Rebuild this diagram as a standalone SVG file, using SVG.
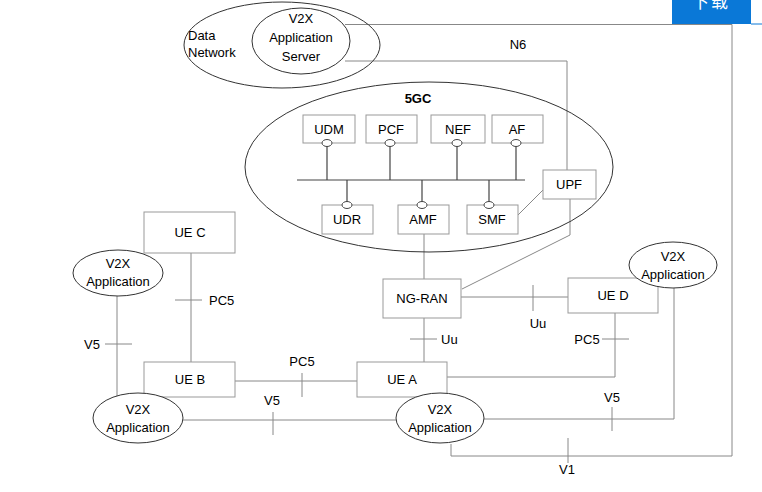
<svg xmlns="http://www.w3.org/2000/svg" width="762" height="492" viewBox="0 0 762 492">
<style>
text{font-family:"Liberation Sans",Arial,sans-serif;font-size:13px;fill:#000;text-anchor:middle}
.l{text-anchor:start}
.box{fill:#fff;stroke:#999;stroke-width:1}
.ell{fill:#fff;stroke:#333;stroke-width:1}
.open{fill:none}
.ln{fill:none;stroke:#888;stroke-width:1}
.dk{fill:none;stroke:#444;stroke-width:1.2}
.knob{fill:#fff;stroke:#444;stroke-width:1}
</style>
<rect width="762" height="492" fill="#fff"/>
<g id="connectors">
<polyline class="ln" points="345,24.5 732,24.5 732,456 451,456 451,444"/>
<polyline class="ln" points="345,61 567,61 567,170"/>
<polyline class="ln" points="570,199 570,235 462,289"/>
<line class="ln" x1="518" y1="215" x2="543" y2="190"/>
<line class="ln" x1="424" y1="234" x2="424" y2="279"/>
<line class="ln" x1="461" y1="297" x2="568" y2="297"/>
<line class="ln" x1="533" y1="285" x2="533" y2="311"/>
<line class="ln" x1="424" y1="318" x2="424" y2="362"/>
<line class="ln" x1="410" y1="339" x2="437" y2="339"/>
<polyline class="ln" points="615,313 615,377 447,377"/>
<line class="ln" x1="602" y1="339" x2="629" y2="339"/>
<polyline class="ln" points="674,288 674,419 484,419"/>
<line class="ln" x1="612" y1="407" x2="612" y2="431"/>
<line class="ln" x1="568" y1="438" x2="568" y2="463"/>
<line class="ln" x1="235" y1="381" x2="357" y2="381"/>
<line class="ln" x1="302" y1="373" x2="302" y2="397"/>
<line class="ln" x1="182" y1="420" x2="396" y2="420"/>
<line class="ln" x1="273" y1="412" x2="273" y2="435"/>
<line class="ln" x1="191" y1="253" x2="191" y2="362"/>
<line class="ln" x1="175" y1="300" x2="202" y2="300"/>
<line class="ln" x1="117" y1="296" x2="117" y2="398"/>
<line class="ln" x1="105" y1="344" x2="132" y2="344"/>
</g>
<g id="data-network">
<ellipse class="ell open" cx="282" cy="45" rx="98" ry="43"/>
<text class="l" x="188" y="40">Data</text>
<text class="l" x="188" y="57">Network</text>
</g>
<g id="v2x-as">
<ellipse class="ell" cx="301" cy="41" rx="49" ry="33"/>
<text x="301" y="23">V2X</text>
<text x="301" y="42">Application</text>
<text x="301" y="61">Server</text>
</g>
<text x="518" y="49">N6</text>
<g id="fivegc">
<ellipse class="ell open" cx="429" cy="167" rx="184" ry="85"/>
<text x="418" y="103" style="font-weight:bold">5GC</text>
<line class="dk" x1="297" y1="180" x2="525" y2="180"/>
</g>
<g id="udm"><line class="dk" x1="327" y1="143" x2="327" y2="180"/><rect class="box" x="303" y="115" width="52" height="28"/><text x="329" y="134">UDM</text><ellipse class="knob" cx="327" cy="143" rx="5" ry="3.5"/></g>
<g id="pcf"><line class="dk" x1="390" y1="143" x2="390" y2="180"/><rect class="box" x="366" y="115" width="51" height="28"/><text x="391" y="134">PCF</text><ellipse class="knob" cx="390" cy="143" rx="5" ry="3.5"/></g>
<g id="nef"><line class="dk" x1="457" y1="143" x2="457" y2="180"/><rect class="box" x="431" y="115" width="54" height="28"/><text x="458" y="134">NEF</text><ellipse class="knob" cx="457" cy="143" rx="5" ry="3.5"/></g>
<g id="af"><line class="dk" x1="516" y1="143" x2="516" y2="180"/><rect class="box" x="492" y="115" width="51" height="28"/><text x="517" y="134">AF</text><ellipse class="knob" cx="516" cy="143" rx="5" ry="3.5"/></g>
<g id="udr"><line class="dk" x1="347" y1="180" x2="347" y2="205"/><rect class="box" x="322" y="205" width="51" height="29"/><text x="347" y="224">UDR</text><ellipse class="knob" cx="347" cy="205" rx="5" ry="3.5"/></g>
<g id="amf"><line class="dk" x1="422" y1="180" x2="422" y2="205"/><rect class="box" x="398" y="205" width="51" height="29"/><text x="423" y="224">AMF</text><ellipse class="knob" cx="422" cy="205" rx="5" ry="3.5"/></g>
<g id="smf"><line class="dk" x1="489" y1="180" x2="489" y2="205"/><rect class="box" x="467" y="205" width="51" height="29"/><text x="492" y="224">SMF</text><ellipse class="knob" cx="489" cy="205" rx="5" ry="3.5"/></g>
<g id="upf"><rect class="box" x="543" y="170" width="53" height="29"/><text x="569" y="189">UPF</text></g>
<g id="ng-ran"><rect class="box" x="383" y="279" width="78" height="39"/><text x="422" y="303">NG-RAN</text></g>
<text x="538" y="328">Uu</text>
<text class="l" x="441" y="344">Uu</text>
<g id="ue-d"><rect class="box" x="568" y="278" width="90" height="35"/><text x="613" y="300">UE D</text></g>
<text x="587" y="344">PC5</text>
<g id="app-d"><ellipse class="ell" cx="673" cy="265" rx="44" ry="23"/><text x="673" y="261">V2X</text><text x="673" y="279">Application</text></g>
<g id="ue-a"><rect class="box" x="357" y="362" width="90" height="35"/><text x="402" y="384">UE A</text></g>
<g id="app-a"><ellipse class="ell" cx="440" cy="418" rx="44" ry="25"/><text x="440" y="414">V2X</text><text x="440" y="432">Application</text></g>
<text x="612" y="402">V5</text>
<text x="567" y="474">V1</text>
<g id="ue-b"><rect class="box" x="144" y="362" width="91" height="35"/><text x="190" y="384">UE B</text></g>
<text x="302" y="366">PC5</text>
<g id="app-b"><ellipse class="ell" cx="138" cy="418" rx="45" ry="25"/><text x="138" y="414">V2X</text><text x="138" y="432">Application</text></g>
<text x="272" y="405">V5</text>
<g id="ue-c"><rect class="box" x="144" y="212" width="91" height="41"/><text x="190" y="237">UE C</text></g>
<text class="l" x="209" y="305">PC5</text>
<g id="app-c"><ellipse class="ell" cx="118" cy="273" rx="45" ry="23"/><text x="118" y="268">V2X</text><text x="118" y="286">Application</text></g>
<text x="92" y="349">V5</text>
<g id="banner">
<rect x="672" y="0" width="79" height="24" fill="#0a78d7"/>
<line x1="751" y1="24" x2="762" y2="24" stroke="#0a78d7" stroke-width="1"/>
<text x="711" y="8" style="fill:#fff;font-size:17px;font-family:'Noto Sans CJK SC',sans-serif;letter-spacing:2px">下载</text>
</g>
</svg>
